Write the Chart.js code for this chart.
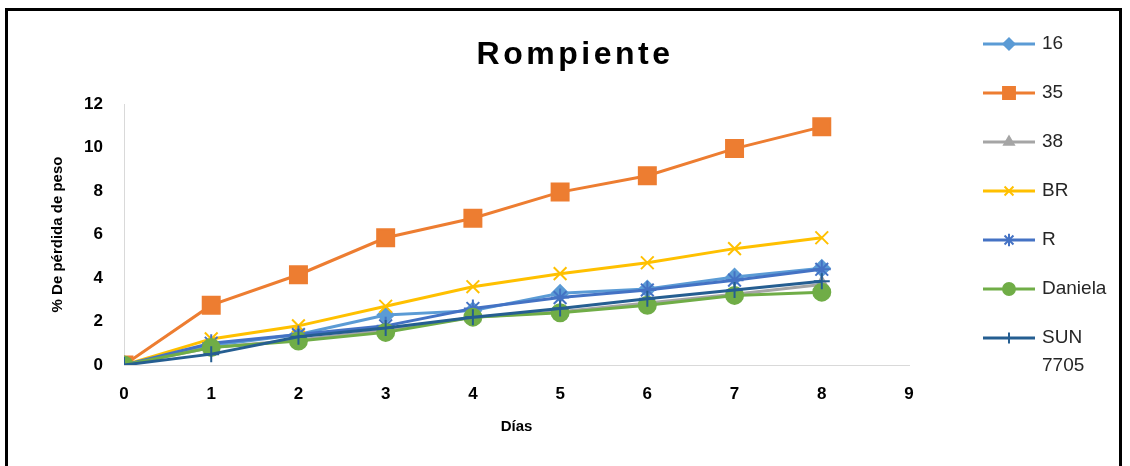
<!DOCTYPE html>
<html><head><meta charset="UTF-8"><title>Rompiente</title>
<script src="https://cdn.jsdelivr.net/npm/chart.js"></script>
<style>
  html, body { margin: 0; padding: 0; background: #fff; }
  #wrap { position: relative; width: 1130px; height: 466px; overflow: hidden; }
  #frame { position: absolute; left: 5px; top: 8px; width: 1117px; height: 470px; border: 3px solid #000; box-sizing: border-box; pointer-events: none; }
  canvas { position: absolute; left: 0; top: 0; }
</style></head><body>
<div id="wrap"><canvas id="c" width="1130" height="466"></canvas><div id="frame"></div></div>
<script>
// --- datos ---
const dias = [0, 1, 2, 3, 4, 5, 6, 7, 8];
const s16 = [0, 0.9, 1.4, 2.3, 2.5, 3.3, 3.5, 4.05, 4.45];
const s35 = [0, 2.75, 4.15, 5.85, 6.75, 7.95, 8.7, 9.95, 10.95];
const s38 = [0, 0.8, 1.15, 1.6, 2.2, 2.45, 2.85, 3.25, 3.7];
const sBR = [0, 1.2, 1.8, 2.7, 3.6, 4.2, 4.7, 5.35, 5.85];
const sR = [0, 1.0, 1.4, 1.8, 2.6, 3.1, 3.45, 3.9, 4.4];
const sDaniela = [0, 0.8, 1.1, 1.5, 2.2, 2.4, 2.75, 3.2, 3.35];
const sSun = [0, 0.5, 1.3, 1.7, 2.2, 2.6, 3.05, 3.45, 3.85];
const yTicks = [0, 2, 4, 6, 8, 10, 12];

const series = [
  { label: '16', data: s16, color: '#5B9BD5', style: 'rectRot', r: 8 },
  { label: '35', data: s35, color: '#ED7D31', style: 'rect', r: 12 },
  { label: '38', data: s38, color: '#A5A5A5', style: 'triangle', r: 8 },
  { label: 'BR', data: sBR, color: '#FFC000', style: 'crossRot', r: 9 },
  { label: 'R', data: sR, color: '#4472C4', style: 'star', r: 9 },
  { label: 'Daniela', data: sDaniela, color: '#70AD47', style: 'circle', r: 8.5 },
  { label: 'SUN 7705', data: sSun, color: '#255E91', style: 'cross', r: 8 }
];

const FONT = "'Liberation Sans', Arial, sans-serif";

// titulo y leyenda dibujados a mano
const extras = {
  id: 'extras',
  afterDraw(chart) {
    const ctx = chart.ctx;
    ctx.save();
    ctx.fillStyle = '#000';
    ctx.font = 'bold 32px ' + FONT;
    ctx.textAlign = 'center';
    ctx.textBaseline = 'middle';
    if ('letterSpacing' in ctx) ctx.letterSpacing = '3.5px';
    ctx.fillText('Rompiente', 575, 55);
    if ('letterSpacing' in ctx) ctx.letterSpacing = '0px';

    ctx.font = '19px ' + FONT;
    ctx.textAlign = 'left';
    series.forEach((s, i) => {
      const y = 44 + i * 49;
      ctx.strokeStyle = s.color;
      ctx.fillStyle = s.color;
      ctx.lineWidth = 3;
      ctx.beginPath(); ctx.moveTo(983, y); ctx.lineTo(1035, y); ctx.stroke();
      ctx.lineWidth = 2;
      Chart.helpers.drawPoint(ctx, {
        pointStyle: s.style, radius: s.r * 0.7, rotation: 0, borderWidth: 2
      }, 1009, y);
      ctx.fillStyle = '#262626';
      const parts = s.label === 'SUN 7705' ? ['SUN', '7705'] : [s.label];
      parts.forEach((t, k) => ctx.fillText(t, 1042, y + k * 28));
    });
    ctx.restore();
  }
};

new Chart(document.getElementById('c'), {
  type: 'line',
  data: {
    datasets: series.map((s, i) => ({
      label: s.label,
      data: dias.map((d, k) => ({ x: d, y: s.data[k] })),
      borderColor: s.color,
      backgroundColor: s.color,
      pointBackgroundColor: s.color,
      pointBorderColor: s.color,
      pointStyle: s.style,
      pointRadius: s.r,
      pointBorderWidth: 2,
      borderWidth: 3,
      tension: 0,
      order: 6 - i
    }))
  },
  plugins: [extras],
  options: {
    responsive: false,
    animation: false,
    layout: { padding: { top: 104, right: 221, left: 0, bottom: 0 } },
    plugins: { legend: { display: false }, title: { display: false }, tooltip: { enabled: false } },
    scales: {
      x: {
        type: 'linear', min: 0, max: 9,
        grid: { display: false },
        border: { display: true, color: '#d9d9d9', width: 1 },
        ticks: { stepSize: 1, color: '#000', padding: 11, font: { family: FONT, size: 17, weight: 'bold' } },
        title: { display: true, text: 'Días', color: '#000', padding: { top: 4, bottom: 30 }, font: { family: FONT, size: 15, weight: 'bold' } },
        afterFit(scale) { scale.height = 101; }
      },
      y: {
        min: 0, max: 12,
        grid: { display: false },
        border: { display: true, color: '#d9d9d9', width: 1 },
        afterBuildTicks(scale) { scale.ticks = yTicks.map(v => ({ value: v })); },
        ticks: { color: '#000', padding: 13, font: { family: FONT, size: 17, weight: 'bold' } },
        title: { display: true, text: '% De pérdida de peso', color: '#000', padding: { top: 49, bottom: 4 }, font: { family: FONT, size: 15, weight: 'bold' } },
        afterFit(scale) { scale.width = 124; }
      }
    }
  }
});
</script></body></html>
